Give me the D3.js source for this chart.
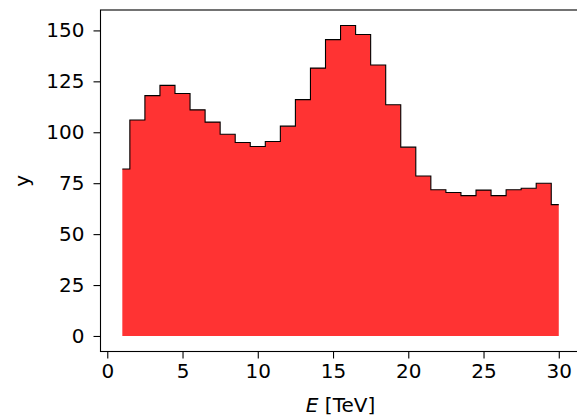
<!DOCTYPE html>
<html>
<head>
<meta charset="utf-8">
<script src="https://cdn.jsdelivr.net/npm/d3@7"></script>
<style>
  body { margin: 0; background: #fff; }
  svg { display: block; font-family: "DejaVu Sans", sans-serif; }
  .tick text { fill: #000; }
</style>
</head>
<body>
<div id="chart"></div>
<script>
// energy bin centres [TeV] and counts
var energy = [1, 2, 3, 4, 5, 6, 7, 8, 9, 10, 11, 12, 13, 14, 15,
              16, 17, 18, 19, 20, 21, 22, 23, 24, 25, 26, 27, 28, 29, 30];
var counts = [82, 106, 118, 123, 119, 111, 105, 99, 95, 93, 95.5, 103, 116, 131.5, 145.5,
              152.4, 148, 133, 113.5, 92.7, 78.5, 71.8, 70.4, 68.9, 71.6, 68.9, 71.8, 72.5, 75, 64.5];
var xTicks = [0, 5, 10, 15, 20, 25, 30];
var yTicks = [0, 25, 50, 75, 100, 125, 150];

var width = 577, height = 418;
var plotLeft = 100.5, plotTop = 10, plotRight = 580.6, plotBottom = 351.5;
var fontSize = 20;

var svg = d3.select('#chart').append('svg')
  .attr('width', width)
  .attr('height', height);

var data = energy.map(function(e, i) { return {x: e, y: counts[i]}; });

// matplotlib style 5% margins
var xPad = (d3.max(energy) - d3.min(energy)) * 0.05;
var yPad = d3.max(counts) * 0.05;

var x = d3.scaleLinear()
  .domain([d3.min(energy) - xPad, d3.max(energy) + xPad])
  .range([plotLeft, plotRight]);

var y = d3.scaleLinear()
  .domain([-yPad, d3.max(counts) + yPad])
  .range([plotBottom, plotTop]);

// filled step histogram (step at midpoints)
var area = d3.area()
  .curve(d3.curveStep)
  .x(function(d) { return x(d.x); })
  .y0(y(0))
  .y1(function(d) { return y(d.y); });

var line = d3.line()
  .curve(d3.curveStep)
  .x(function(d) { return x(d.x); })
  .y(function(d) { return y(d.y); });

svg.append('path')
  .datum(data)
  .attr('d', area)
  .attr('fill', 'red')
  .attr('fill-opacity', 0.8);

svg.append('path')
  .datum(data)
  .attr('d', line)
  .attr('fill', 'none')
  .attr('stroke', '#000')
  .attr('stroke-width', 1.1);

// axes
var xAxis = svg.append('g')
  .attr('transform', 'translate(0,' + plotBottom + ')')
  .call(d3.axisBottom(x).tickValues(xTicks).tickSize(7).tickPadding(5).tickSizeOuter(0));

var yAxis = svg.append('g')
  .attr('transform', 'translate(' + plotLeft + ',0)')
  .call(d3.axisLeft(y).tickValues(yTicks).tickSize(7).tickPadding(9).tickSizeOuter(0));

[xAxis, yAxis].forEach(function(a) {
  a.selectAll('text').style('font-size', fontSize + 'px').attr('font-family', 'DejaVu Sans');
  a.selectAll('line').attr('stroke', '#000').attr('stroke-width', 1.1);
  a.select('.domain').remove();
});

// spines
svg.append('rect')
  .attr('x', plotLeft)
  .attr('y', plotTop)
  .attr('width', plotRight - plotLeft)
  .attr('height', plotBottom - plotTop)
  .attr('fill', 'none')
  .attr('stroke', '#000')
  .attr('stroke-width', 1.1);

// axis labels
var xl = svg.append('text')
  .attr('x', (plotLeft + plotRight) / 2)
  .attr('y', 412)
  .attr('text-anchor', 'middle')
  .style('font-size', fontSize + 'px');
xl.append('tspan').style('font-style', 'italic').text('E');
xl.append('tspan').text(' [TeV]');

svg.append('text')
  .attr('transform', 'translate(29,' + ((plotTop + plotBottom) / 2) + ') rotate(-90)')
  .attr('text-anchor', 'middle')
  .style('font-size', fontSize + 'px')
  .text('y');
</script>
</body>
</html>
